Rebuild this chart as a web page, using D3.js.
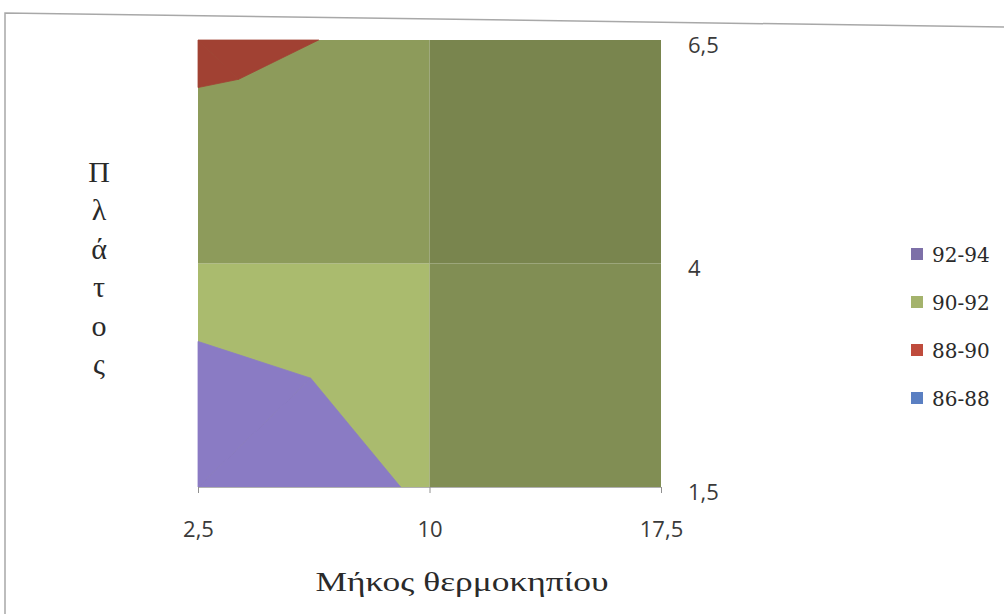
<!DOCTYPE html>
<html>
<head>
<meta charset="utf-8">
<script src="https://cdn.jsdelivr.net/npm/d3@7"></script>
<style>
  body { margin: 0; background: #fff; }
  svg { display: block; }
</style>
</head>
<body>
<svg id="chart" width="1004" height="614"></svg>
<script>
// Data: grid of the surface (Excel contour, top view).
var xValues = [2.5, 10, 17.5];          // Μήκος θερμοκηπίου
var yValues = [1.5, 4, 6.5];            // Πλάτος
// zValues[row][col], row follows yValues, col follows xValues
var zValues = [
  [92.28, 91.96, 91.5],
  [91.85, 91.88, 91.3],
  [89.5, 90.46, 90.8]
];
var bandLabels = ['92-94', '90-92', '88-90', '86-88'];
var bandLows = [92, 90, 88, 86];
var bandHighs = [94, 92, 90, 88];
var bandColors = ['#8a7bc4', '#aabb6e', '#c24e3e', '#5b7fc0'];
var legendColors = ['#7d70a8', '#a4b36c', '#bf4b3c', '#5a7fc2'];
var xTicks = [2.5, 10, 17.5];
var yTicks = [1.5, 4, 6.5];

// Lighting shade per cell [row][col] (3D surface seen from top).
var cellShade = [
  [1.0, 0.76],
  [0.83, 0.71]
];

var svg = d3.select('#chart');

var x = d3.scaleLinear().domain([2.5, 17.5]).range([198, 661]);
var y = d3.scaleLinear().domain([1.5, 6.5]).range([487, 40]);

var comma = function(d) { return String(d).replace('.', ','); };

// Outer frame (scan is slightly rotated)
svg.append('path')
  .attr('d', 'M5,614 L5,13 L1004,27')
  .attr('fill', 'none')
  .attr('stroke', '#a8a8a8')
  .attr('stroke-width', 1.5);

/**
 * clip
 * ====
 * Clips a polygon of [x, y, z] points to z >= level (sign 1) or z <= level (sign -1).
 */
var clip = function(poly, level, sign) {
  var out = [];
  for (var i = 0; i < poly.length; i++) {
    var p = poly[i], q = poly[(i + 1) % poly.length];
    var pin = sign * (p[2] - level) >= 0;
    var qin = sign * (q[2] - level) >= 0;
    if (pin) out.push(p);
    if (pin !== qin) {
      var t = (level - p[2]) / (q[2] - p[2]);
      out.push([p[0] + t * (q[0] - p[0]), p[1] + t * (q[1] - p[1]), level]);
    }
  }
  return out;
};

var shadeColor = function(col, k) {
  var c = d3.rgb(col);
  return d3.rgb(c.r * k, c.g * k, c.b * k).formatHex();
};

// Build the band polygons, cell by cell, split into 4 triangles.
var cells = [];
var pieces = [];
for (var r = 0; r < yValues.length - 1; r++) {
  for (var c = 0; c < xValues.length - 1; c++) {
    var bl = [xValues[c], yValues[r], zValues[r][c]];
    var br = [xValues[c + 1], yValues[r], zValues[r][c + 1]];
    var tl = [xValues[c], yValues[r + 1], zValues[r + 1][c]];
    var tr = [xValues[c + 1], yValues[r + 1], zValues[r + 1][c + 1]];
    var ctr = [(bl[0] + br[0]) / 2, (bl[1] + tl[1]) / 2,
               (bl[2] + br[2] + tl[2] + tr[2]) / 4];
    // cell backdrop in the band of its centre, hides seams between triangles
    var cb = bandLows.findIndex(function(lo, b) { return ctr[2] >= lo && ctr[2] <= bandHighs[b]; });
    cells.push({x0: bl[0], x1: br[0], y0: bl[1], y1: tl[1],
                color: shadeColor(bandColors[cb], cellShade[r][c])});
    var tris = [[bl, br, ctr], [br, tr, ctr], [tr, tl, ctr], [tl, bl, ctr]];
    tris.forEach(function(tri) {
      bandLows.forEach(function(lo, b) {
        if (b === cb) return;
        var poly = clip(tri, lo, 1);
        if (poly.length < 3) return;
        poly = clip(poly, bandHighs[b], -1);
        if (poly.length < 3) return;
        pieces.push({poly: poly, color: shadeColor(bandColors[b], cellShade[r][c])});
      });
    });
  }
}

svg.append('g').selectAll('rect')
  .data(cells)
  .enter()
  .append('rect')
  .attr('x', function(d) { return x(d.x0); })
  .attr('y', function(d) { return y(d.y1); })
  .attr('width', function(d) { return x(d.x1) - x(d.x0); })
  .attr('height', function(d) { return y(d.y0) - y(d.y1); })
  .attr('fill', function(d) { return d.color; });

var line = d3.line()
  .x(function(d) { return x(d[0]); })
  .y(function(d) { return y(d[1]); });

svg.append('g').selectAll('path')
  .data(pieces)
  .enter()
  .append('path')
  .attr('d', function(d) { return line(d.poly) + 'Z'; })
  .attr('fill', function(d) { return d.color; })
  .attr('stroke', function(d) { return d.color; })
  .attr('stroke-width', 0.8);

// Axes
var xAxis = svg.append('g')
  .attr('transform', 'translate(0,487)')
  .call(d3.axisBottom(x).tickValues(xTicks).tickFormat(comma).tickSize(6).tickPadding(28));
xAxis.select('.domain').attr('stroke', '#b0b0b0');
xAxis.selectAll('.tick line').attr('stroke', '#909090');
xAxis.selectAll('text')
  .attr('fill', '#3a3a3a')
  .style('font-family', '"Open Sans", sans-serif')
  .style('font-size', '22px');

var yAxis = svg.append('g')
  .attr('transform', 'translate(661,0)')
  .call(d3.axisRight(y).tickValues(yTicks).tickFormat(comma).tickSize(0).tickPadding(27));
yAxis.select('.domain').remove();
yAxis.selectAll('text')
  .attr('dy', '0.55em')
  .attr('fill', '#3a3a3a')
  .style('font-family', '"Open Sans", sans-serif')
  .style('font-size', '22px');

// Axis titles
svg.append('text')
  .attr('x', 462)
  .attr('y', 591)
  .attr('text-anchor', 'middle')
  .attr('textLength', 293)
  .attr('lengthAdjust', 'spacingAndGlyphs')
  .attr('fill', '#2a2a2a')
  .style('font-family', '"Liberation Serif", serif')
  .style('font-size', '27px')
  .text('Μήκος θερμοκηπίου');

var yTitle = ['Π', 'λ', 'ά', 'τ', 'ο', 'ς'];
svg.append('g').selectAll('text')
  .data(yTitle)
  .enter()
  .append('text')
  .attr('x', 99)
  .attr('y', function(d, i) { return 182 + i * 38.4; })
  .attr('text-anchor', 'middle')
  .attr('fill', '#2a2a2a')
  .style('font-family', '"Liberation Serif", serif')
  .style('font-size', '30px')
  .text(function(d) { return d; });

// Legend
var legend = svg.append('g').selectAll('g')
  .data(bandLabels)
  .enter()
  .append('g')
  .attr('transform', function(d, i) { return 'translate(911,' + (254 + i * 48) + ')'; });
legend.append('rect')
  .attr('x', 0).attr('y', -6)
  .attr('width', 12).attr('height', 12)
  .attr('fill', function(d, i) { return legendColors[i]; });
legend.append('text')
  .attr('x', 21)
  .attr('y', 8)
  .attr('fill', '#2a2a2a')
  .style('font-family', '"DejaVu Serif", serif')
  .style('font-size', '20px')
  .text(function(d) { return d; });
</script>
</body>
</html>
